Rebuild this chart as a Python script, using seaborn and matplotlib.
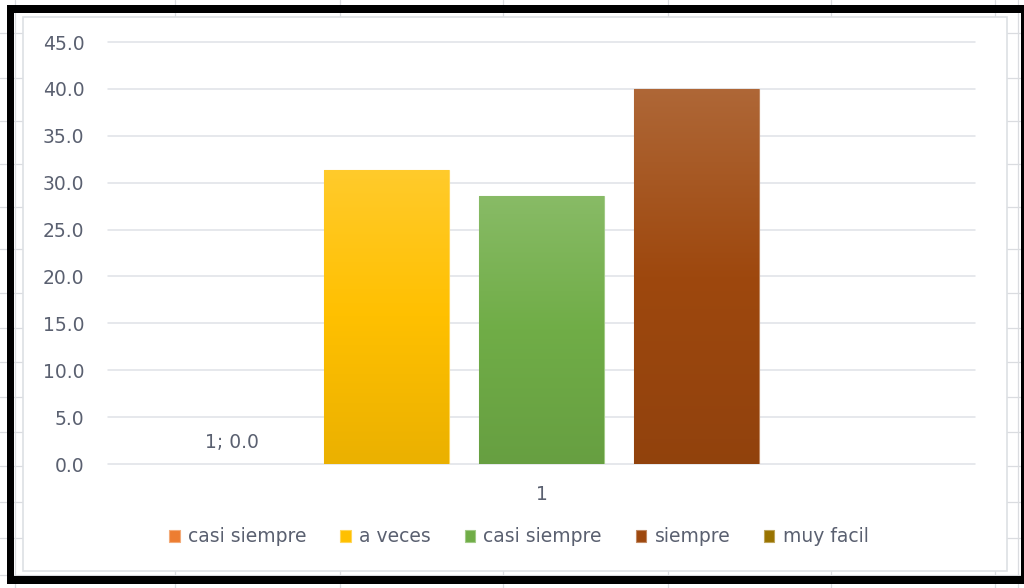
import numpy as np
import pandas as pd
import matplotlib
matplotlib.use("Agg")
import matplotlib.pyplot as plt
from matplotlib.patches import Rectangle
from matplotlib.lines import Line2D
from matplotlib.colors import to_rgb
import seaborn as sns

# --- data -------------------------------------------------------------
category = "1"
series = ["casi siempre", "a veces", "casi siempre", "siempre", "muy facil"]
values = [0.0, 31.4, 28.6, 40.0, 0.0]
series_colors = ["#ED7D31", "#FFC000", "#70AD47", "#9E480E", "#997300"]
y_ticks = [0, 5, 10, 15, 20, 25, 30, 35, 40, 45]

# --- figure -------------------------------------------------------------
sns.set_theme(style="white")
plt.rcParams["font.family"] = ["DejaVu Sans"]
W, H = 1024, 588
fig = plt.figure(figsize=(W / 100, H / 100), dpi=100)
fig.patch.set_facecolor("white")


def fx(px):
    return px / W


def fy(py):
    return 1 - py / H


# worksheet cell grid behind the chart object
grid_c = "#DADCE0"
for cx in [15, 175, 340, 503, 668, 831, 995, 1018]:
    fig.add_artist(Line2D([fx(cx), fx(cx)], [0, 1], color=grid_c, lw=0.9,
                          transform=fig.transFigure, zorder=-5))
for ry in [33, 78, 121, 164, 207, 249, 293, 328, 362, 397, 432, 466, 502,
           538, 575]:
    fig.add_artist(Line2D([0, 1], [fy(ry), fy(ry)], color=grid_c, lw=0.9,
                          transform=fig.transFigure, zorder=-5))

# chart area
fig.add_artist(Rectangle((fx(23), fy(571)), fx(1007) - fx(23), fy(17) - fy(571),
                         facecolor="white", edgecolor="#DDE0E4", lw=1.2,
                         transform=fig.transFigure, zorder=-4))

# black outer frame
frame = [(7, 5, 1024, 13), (7, 5, 14, 584), (7, 576, 1024, 584), (1021, 5, 1024, 584)]
for x0, y0, x1, y1 in frame:
    fig.add_artist(Rectangle((fx(x0), fy(y1)), fx(x1) - fx(x0), fy(y0) - fy(y1),
                             facecolor="black", edgecolor="none",
                             transform=fig.transFigure, zorder=10))

ax = fig.add_axes([fx(108), fy(464), fx(975) - fx(108), fy(42) - fy(464)])
ax.set_facecolor("none")

ids = [f"s{i}" for i in range(len(series))]
df = pd.DataFrame({"categoria": [category] * len(series), "serie": ids,
                   "valor": values})
palette = dict(zip(ids, series_colors))

sns.barplot(data=df, x="categoria", y="valor", hue="serie", hue_order=ids,
            palette=palette, width=0.894, gap=0.195, legend=False,
            saturation=1, ax=ax, zorder=2)


def mix(c, other, t):
    c = np.array(to_rgb(c))
    o = np.array(to_rgb(other))
    return tuple(c * (1 - t) + o * t)


# vertical gradient fill on each bar
for cont, base in zip(ax.containers, series_colors):
    for p in cont.patches:
        h = p.get_height()
        if h <= 0:
            p.set_linewidth(0)
            continue
        p.set_edgecolor(mix(base, "white", 0.35))
        p.set_linewidth(0.8)
        top = np.array(mix(base, "white", 0.17))
        mid = np.array(to_rgb(base))
        bot = np.array(mix(base, "black", 0.08))
        n = 256
        t = np.linspace(0, 1, n)[:, None]
        upper = top + (mid - top) * np.clip(t * 2, 0, 1)
        lower = mid + (bot - mid) * np.clip(t * 2 - 1, 0, 1)
        grad = np.where(t < 0.5, upper, lower)[:, None, :]
        x0, w = p.get_x(), p.get_width()
        im = ax.imshow(grad, extent=(x0, x0 + w, 0, h), aspect="auto",
                       origin="upper", interpolation="bilinear",
                       zorder=p.get_zorder() + 0.1)
        im.set_clip_path(p)

text_c = "#5A6070"
fs = 13.5

ax.bar_label(ax.containers[0], labels=[f"{category}; {values[0]:.1f}"],
             padding=9, color=text_c, fontsize=fs)

ax.set_xlim(-0.5, 0.5)
ax.set_ylim(0, 45)
ax.set_yticks(y_ticks)
ax.set_yticklabels([f"{v:.1f}" for v in y_ticks])
ax.yaxis.grid(True, color="#DFE2E7", lw=1.1)
for gl in ax.get_ygridlines():
    gl.set_clip_on(False)
ax.set_axisbelow(True)
for s in ax.spines.values():
    s.set_visible(False)
ax.tick_params(axis="y", length=0, pad=17, labelsize=fs, labelcolor=text_c)
ax.tick_params(axis="x", length=0, pad=15, labelsize=fs, labelcolor=text_c)
ax.set_xlabel("")
ax.set_ylabel("")

handles = [c.patches[0] for c in ax.containers]
leg = fig.legend(handles, series, loc="center",
                 bbox_to_anchor=(fx(519), fy(537)), ncol=5, frameon=False,
                 fontsize=fs, handlelength=0.55, handleheight=0.6,
                 handletextpad=0.45, columnspacing=1.8, labelcolor=text_c)
for hnd, base in zip(leg.legend_handles, series_colors):
    hnd.set_facecolor(base)
    hnd.set_edgecolor(mix(base, "white", 0.35))
    hnd.set_linewidth(0.8)

fig.savefig("out.png", dpi=100, facecolor="white")
